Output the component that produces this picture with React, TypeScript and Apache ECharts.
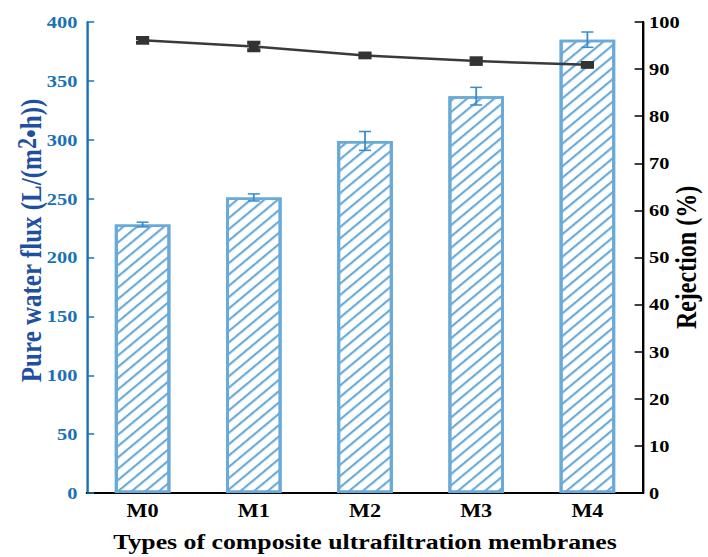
import React, { useEffect, useRef } from "react";
import * as echarts from "echarts";

const categories = ["M0", "M1", "M2", "M3", "M4"];
const fluxValues = [228, 251, 299, 337, 385];
const fluxErrors = [2, 3, 8, 7.5, 6.5];
const rejectionValues = [96.1, 94.8, 92.9, 91.7, 90.9];
const rejectionErrors = [0.5, 0.8, 0.4, 0.6, 0.4];

const FONT = "Liberation Serif";
const HATCH = "#6aaad8";
const TICK_BLUE = "#1a72b5";
const TITLE_BLUE = "#1f4fa0";
const SX = 1.2;
const W = 708 / SX;

function errorSeries(values: number[], errors: number[], yAxisIndex: number, color: string, lw: number, cap: number, z: number) {
  return {
    type: "custom",
    yAxisIndex,
    z,
    silent: true,
    data: values.map((v, i) => [i, v - errors[i], v + errors[i]]),
    renderItem: (params: any, api: any) => {
      const x = api.value(0);
      const lo = api.coord([x, api.value(1)]);
      const hi = api.coord([x, api.value(2)]);
      const st = { stroke: color, lineWidth: lw };
      return {
        type: "group",
        children: [
          { type: "line", shape: { x1: lo[0], y1: lo[1], x2: hi[0], y2: hi[1] }, style: st },
          { type: "line", shape: { x1: lo[0] - cap / 2, y1: lo[1], x2: lo[0] + cap / 2, y2: lo[1] }, style: st },
          { type: "line", shape: { x1: hi[0] - cap / 2, y1: hi[1], x2: hi[0] + cap / 2, y2: hi[1] }, style: st },
        ],
      };
    },
  };
}

export default function App() {
  const ref = useRef<HTMLDivElement>(null);
  useEffect(() => {
    const chart = echarts.init(ref.current!, undefined, { renderer: "svg" });
    chart.setOption({
      animation: false,
      backgroundColor: "#fff",
      grid: { left: 87 / SX, right: 65 / SX, top: 22, bottom: 64, containLabel: false, outerBoundsMode: "none" },
      xAxis: [
        {
          type: "category",
          data: categories,
          position: "bottom",
          axisLine: { lineStyle: { color: "#000", width: 2 } },
          axisTick: { show: false },
          axisLabel: { fontFamily: FONT, fontWeight: "bold", fontSize: 18.5, color: "#000", margin: 8 },
          name: "Types of composite ultrafiltration membranes",
          nameLocation: "middle",
          nameGap: 38,
          nameTextStyle: { fontFamily: FONT, fontWeight: "bold", fontSize: 21.5, color: "#000" },
        },
        {
          type: "category",
          data: categories,
          position: "top",
          axisLine: { show: true, lineStyle: { color: "#000", width: 2 } },
          axisTick: { show: false },
          axisLabel: { show: false },
        },
      ],
      yAxis: [
        {
          type: "value",
          min: 0,
          max: 400,
          interval: 50,
          position: "left",
          axisLine: { show: true, lineStyle: { color: TICK_BLUE, width: 2 } },
          axisTick: { show: true, inside: true, length: 6, lineStyle: { color: TICK_BLUE, width: 1.5 } },
          splitLine: { show: false },
          axisLabel: { fontFamily: FONT, fontWeight: "bold", fontSize: 17, color: TICK_BLUE, margin: 8 },
          name: "Pure water flux (L/(m{s|2}•h))",
          nameLocation: "middle",
          nameMoveOverlap: false,
          nameGap: 33,
          nameRotate: 90,
          nameTextStyle: {
            fontFamily: FONT,
            fontWeight: "bold",
            fontSize: 25,
            color: TITLE_BLUE,
            padding: [0, 0, 0, 34],
            rich: {
              s: { fontFamily: FONT, fontWeight: "bold", fontSize: 22, color: TITLE_BLUE, verticalAlign: "top", padding: [0, 0, 6, 0] },
            },
          },
        },
        {
          type: "value",
          min: 0,
          max: 100,
          interval: 10,
          position: "right",
          axisLine: { show: true, lineStyle: { color: "#000", width: 2 } },
          axisTick: { show: true, inside: true, length: 7, lineStyle: { color: "#000", width: 1.5 } },
          splitLine: { show: false },
          axisLabel: { fontFamily: FONT, fontWeight: "bold", fontSize: 17, color: "#000", margin: 5 },
          name: "Rejection (%)",
          nameLocation: "middle",
          nameMoveOverlap: false,
          nameGap: 24,
          nameRotate: 90,
          nameTextStyle: { fontFamily: FONT, fontWeight: "bold", fontSize: 24, color: "#000" },
        },
      ],
      series: [
        {
          type: "bar",
          yAxisIndex: 0,
          data: fluxValues,
          barWidth: "50%",
          itemStyle: {
            color: "#fff",
            borderColor: HATCH,
            borderWidth: 2.5,
            decal: {
              symbol: "rect",
              color: HATCH,
              dashArrayX: [1, 0],
              dashArrayY: [2, 5.5],
              rotation: -Math.PI / 4,
            },
          },
          z: 2,
        },
        errorSeries(fluxValues, fluxErrors, 0, "#3a8ccc", 1.5, 10, 3),
        {
          type: "line",
          yAxisIndex: 1,
          data: rejectionValues,
          symbol: "rect",
          symbolSize: [8, 7],
          itemStyle: { color: "#333" },
          lineStyle: { color: "#3a3a3a", width: 2.5 },
          z: 4,
        },
        errorSeries(rejectionValues, rejectionErrors, 1, "#333", 4, 11, 5),
      ],
    });
    return () => chart.dispose();
  }, []);
  return (
    <div style={{ position: "absolute", left: 0, top: 0, width: 708, height: 557, overflow: "hidden", background: "#fff" }}>
      <div
        ref={ref}
        style={{ width: W, height: 557, transform: `scaleX(${SX})`, transformOrigin: "0 0" }}
      />
    </div>
  );
}
